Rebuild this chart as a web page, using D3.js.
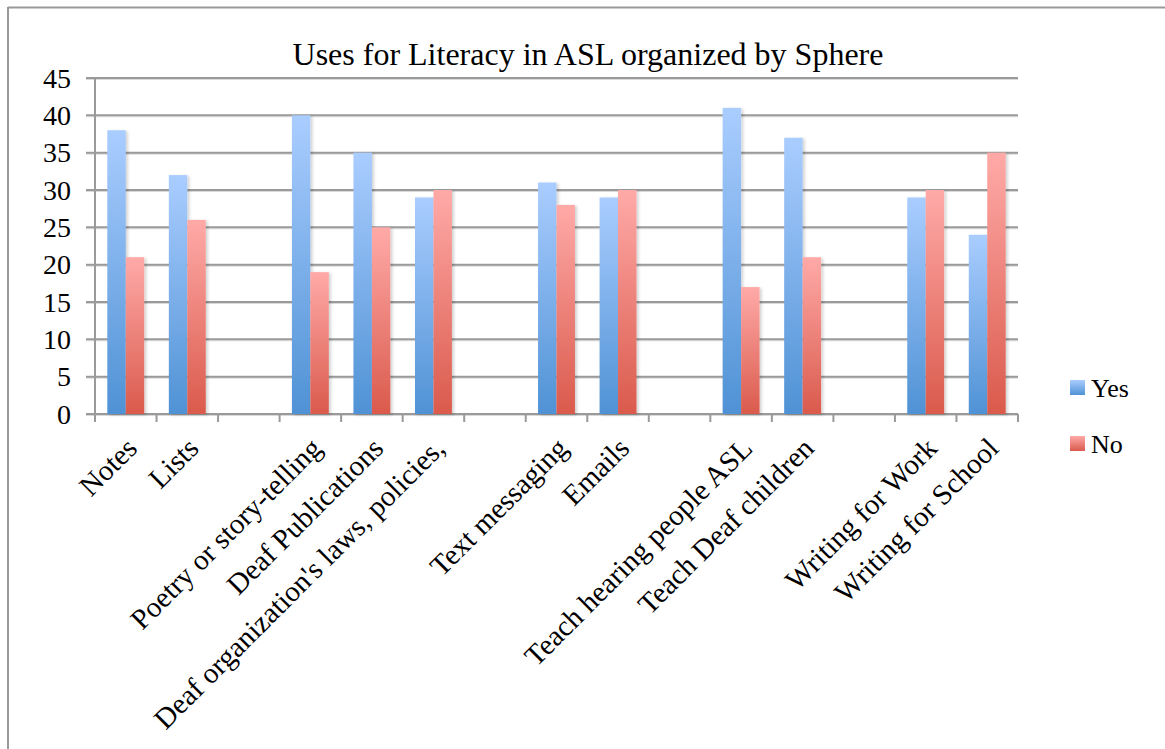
<!DOCTYPE html>
<html>
<head>
<meta charset="utf-8">
<script src="https://cdn.jsdelivr.net/npm/d3@7/dist/d3.min.js"></script>
<style>
  html, body { margin: 0; padding: 0; background: #fff; }
  svg { display: block; }
  text { font-family: "Liberation Serif", "Times New Roman", serif; fill: #000; }
</style>
</head>
<body>
<svg id="chart" width="1165" height="749"></svg>
<script>
// Categories (empty strings are spacer slots between spheres)
const categories = [
  "Notes", "Lists", "",
  "Poetry or story-telling", "Deaf Publications", "Deaf organization's laws, policies,", "",
  "Text messaging", "Emails", "",
  "Teach hearing people ASL", "Teach Deaf children", "",
  "Writing for Work", "Writing for School"
];
const yesValues = [38, 32, null, 40, 35, 29, null, 31, 29, null, 41, 37, null, 29, 24];
const noValues  = [21, 26, null, 19, 25, 30, null, 28, 30, null, 17, 21, null, 30, 35];
const seriesNames = ["Yes", "No"];
const yTicks = [0, 5, 10, 15, 20, 25, 30, 35, 40, 45];
const titleText = "Uses for Literacy in ASL organized by Sphere";

const svg = d3.select("#chart");
const plotLeft = 95, plotRight = 1018, plotTop = 78, plotBottom = 414;

// Gradients and bar shadow
const defs = svg.append("defs");
function grad(id, topColor, bottomColor) {
  const g = defs.append("linearGradient").attr("id", id)
    .attr("x1", 0).attr("y1", 0).attr("x2", 0).attr("y2", 1);
  g.append("stop").attr("offset", "0%").attr("stop-color", topColor);
  g.append("stop").attr("offset", "100%").attr("stop-color", bottomColor);
}
grad("gYes", "#aacdff", "#4f92d5");
grad("gNo", "#ffaaa8", "#da5a4c");
const shadow = defs.append("filter").attr("id", "shadow")
  .attr("x", "-20%").attr("y", "-5%").attr("width", "150%").attr("height", "110%");
shadow.append("feDropShadow").attr("dx", 2).attr("dy", 1).attr("stdDeviation", 1.5)
  .attr("flood-color", "#000").attr("flood-opacity", 0.18);
const lineShadow = defs.append("filter").attr("id", "lshadow")
  .attr("filterUnits", "userSpaceOnUse")
  .attr("x", 0).attr("y", 0).attr("width", 1165).attr("height", 749);
lineShadow.append("feDropShadow").attr("dx", 0).attr("dy", 1).attr("stdDeviation", 0.7)
  .attr("flood-color", "#000").attr("flood-opacity", 0.15);

// Outer frame (top and left edges)
svg.append("line").attr("x1", 8).attr("y1", 7.5).attr("x2", 1165).attr("y2", 7.5)
  .attr("stroke", "#999").attr("stroke-width", 2);
svg.append("line").attr("x1", 8).attr("y1", 7).attr("x2", 8).attr("y2", 749)
  .attr("stroke", "#999").attr("stroke-width", 2);

// Scales
const x = d3.scaleBand().domain(d3.range(categories.length)).range([plotLeft, plotRight]).padding(0);
const y = d3.scaleLinear().domain([0, 45]).range([plotBottom, plotTop]);
const inner = d3.scaleBand().domain(seriesNames).range([0, x.bandwidth()])
  .paddingInner(0).paddingOuter(0.667);

// Title
svg.append("text").attr("x", 588).attr("y", 65).attr("text-anchor", "middle")
  .style("font-size", "32px").text(titleText);

// Gridlines
svg.append("g").attr("filter", "url(#lshadow)").selectAll("line").data(yTicks).join("line")
  .attr("x1", plotLeft - 9).attr("x2", plotRight)
  .attr("y1", d => y(d)).attr("y2", d => y(d))
  .attr("stroke", "#9a9a9a").attr("stroke-width", 2);

// Y axis line and labels
svg.append("line").attr("x1", plotLeft).attr("x2", plotLeft).attr("y1", plotTop).attr("y2", plotBottom + 7)
  .attr("stroke", "#9a9a9a").attr("stroke-width", 2);
svg.append("g").selectAll("text").data(yTicks).join("text")
  .attr("x", 71).attr("y", d => y(d)).attr("dy", "0.35em")
  .attr("text-anchor", "end").style("font-size", "28px").text(d => d);

// X axis ticks at slot boundaries
const boundaries = d3.range(categories.length + 1).map(i => plotLeft + i * x.step());
svg.append("g").selectAll("line").data(boundaries).join("line")
  .attr("x1", d => d).attr("x2", d => d).attr("y1", plotBottom).attr("y2", plotBottom + 8)
  .attr("stroke", "#9a9a9a").attr("stroke-width", 2);

// Bars
const rows = categories.map((c, i) => ({ i, Yes: yesValues[i], No: noValues[i] }));
const groups = svg.append("g").selectAll("g").data(rows.filter(r => r.Yes != null)).join("g")
  .attr("transform", d => `translate(${x(d.i)},0)`);
groups.selectAll("rect").data(d => seriesNames.map(k => ({ k, v: d[k] }))).join("rect")
  .attr("x", d => inner(d.k))
  .attr("width", inner.bandwidth())
  .attr("y", d => y(d.v))
  .attr("height", d => y(0) - y(d.v))
  .attr("fill", d => d.k === "Yes" ? "url(#gYes)" : "url(#gNo)")
  .attr("filter", "url(#shadow)");

// Category labels
svg.append("g").selectAll("text").data(rows.filter(r => categories[r.i] !== "")).join("text")
  .attr("transform", d => `translate(${x(d.i) + x.bandwidth() / 2 + 13},${plotBottom + 36}) rotate(-45)`)
  .attr("text-anchor", "end").style("font-size", "29px")
  .text(d => categories[d.i]);

// Legend
const legend = svg.append("g").selectAll("g").data(seriesNames).join("g")
  .attr("transform", (d, i) => `translate(1070,${380 + i * 56})`);
legend.append("rect").attr("width", 15).attr("height", 15)
  .attr("fill", d => d === "Yes" ? "url(#gYes)" : "url(#gNo)");
legend.append("text").attr("x", 21).attr("y", 17).style("font-size", "26px").text(d => d);
</script>
</body>
</html>
